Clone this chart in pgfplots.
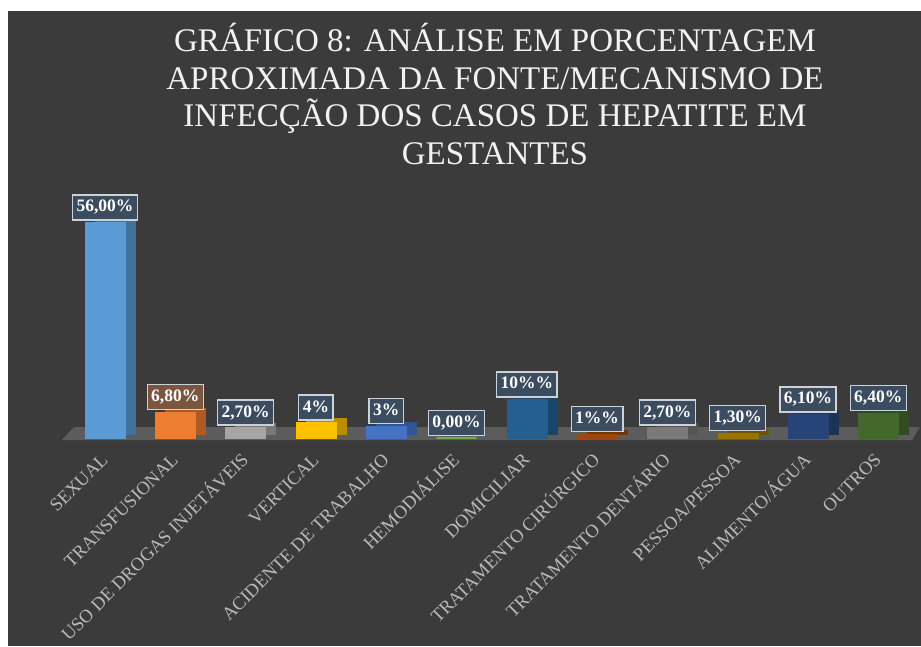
\documentclass[border=0pt]{standalone}
\usepackage{pgfplots}
\pgfplotsset{compat=1.18}
\usepackage{fontspec}
\setmainfont{Liberation Serif}
\definecolor{bgdark}{RGB}{59,59,59}
\definecolor{floorgray}{RGB}{92,92,92}
\definecolor{titlecol}{RGB}{242,242,242}
\definecolor{tickcol}{RGB}{185,185,185}
\definecolor{lblfill}{RGB}{59,76,96}
\definecolor{lblfillor}{RGB}{122,86,64}
\definecolor{lblborder}{RGB}{205,210,215}
\definecolor{ca}{HTML}{5B9BD5}\definecolor{cad}{HTML}{41719C}
\definecolor{cb}{HTML}{ED7D31}\definecolor{cbd}{HTML}{AE5A21}
\definecolor{cc}{HTML}{A5A5A5}\definecolor{ccd}{HTML}{787878}
\definecolor{cd}{HTML}{FFC000}\definecolor{cdd}{HTML}{BC8C00}
\definecolor{ce}{HTML}{4472C4}\definecolor{ced}{HTML}{2F5597}
\definecolor{cf}{HTML}{70AD47}\definecolor{cfd}{HTML}{507E32}
\definecolor{cg}{HTML}{255E91}\definecolor{cgd}{HTML}{1B4469}
\definecolor{ch}{HTML}{9E480E}\definecolor{chd}{HTML}{73350A}
\definecolor{ci}{HTML}{7A7A7A}\definecolor{cid}{HTML}{555555}
\definecolor{cj}{HTML}{997300}\definecolor{cjd}{HTML}{6F5400}
\definecolor{ck}{HTML}{264478}\definecolor{ckd}{HTML}{1C3257}
\definecolor{cl}{HTML}{43682B}\definecolor{cld}{HTML}{314C1F}
\begin{document}
\begin{tikzpicture}[x=1pt,y=1pt]
\useasboundingbox (0,0) rectangle (921,646);
\fill[white] (0,0) rectangle (921,646);
\fill[bgdark] (8,0) rectangle (921,635);
\begin{scope}[every node/.style={text=titlecol, anchor=base, inner sep=0pt, font=\fontsize{33}{37}\selectfont}]
\node at (495,594) {GRÁFICO 8: ANÁLISE EM PORCENTAGEM};
\node at (495,556.5) {APROXIMADA DA FONTE/MECANISMO DE};
\node at (495,519) {INFECÇÃO DOS CASOS DE HEPATITE EM};
\node at (495,481.5) {GESTANTES};
\end{scope}
\fill[floorgray] (62,206) -- (912,206) -- (920,219) -- (74,219) -- cycle;
\begin{axis}[
  at={(69.85pt,208pt)}, anchor=south west,
  scale only axis, width=843.6pt, height=230.8pt,
  xmin=-0.5, xmax=11.5, ymin=0, ymax=60,
  clip=false,
  axis line style={draw=none},
  ytick=\empty,
  xtick={0,...,11},
  major tick length=0pt,
  xticklabels={SEXUAL,TRANSFUSIONAL,USO DE DROGAS INJETÁVEIS,VERTICAL,ACIDENTE DE TRABALHO,HEMODIÁLISE,DOMICILIAR,TRATAMENTO CIRÚRGICO,TRATAMENTO DENTÁRIO,PESSOA/PESSOA,ALIMENTO/ÁGUA,OUTROS},
  xticklabel style={xshift=-5pt, rotate=45, anchor=north east, inner sep=0pt, text height=12.5pt, text depth=0pt, text=tickcol, font=\fontsize{18.5}{18.5}\selectfont},
  xticklabel shift=14pt,
  every axis plot/.append style={ybar, bar width=40pt, bar shift=0pt, line width=0.4pt},
  every node near coord/.style={anchor=south, yshift=2pt, draw=lblborder, line width=1.2pt, fill=lblfill, text=white, inner xsep=4pt, inner ysep=4.5pt, text height=12.5pt, text depth=3.5pt, font=\bfseries\fontsize{17.5}{17.5}\selectfont},
]
% back faces (depth)
\addplot[fill=cad, draw=cad, xshift=10pt, yshift=4pt] coordinates {(0,56)};
\addplot[fill=ca, draw=ca, nodes near coords={56,00\%}] coordinates {(0,56)};
\addplot[fill=cbd, draw=cbd, xshift=10pt, yshift=4pt] coordinates {(1,6.8)};
\addplot[fill=cb, draw=cb, nodes near coords={6,80\%}, every node near coord/.append style={fill=lblfillor}] coordinates {(1,6.8)};
\addplot[fill=ccd, draw=ccd, xshift=10pt, yshift=4pt] coordinates {(2,2.7)};
\addplot[fill=cc, draw=cc, nodes near coords={2,70\%}] coordinates {(2,2.7)};
\addplot[fill=cdd, draw=cdd, xshift=10pt, yshift=4pt] coordinates {(3,4)};
\addplot[fill=cd, draw=cd, nodes near coords={4\%}] coordinates {(3,4)};
\addplot[fill=ced, draw=ced, xshift=10pt, yshift=4pt] coordinates {(4,3)};
\addplot[fill=ce, draw=ce, nodes near coords={3\%}] coordinates {(4,3)};
\addplot[fill=cf, draw=cf, line width=1.5pt, nodes near coords={0,00\%}] coordinates {(5,0)};
\addplot[fill=cgd, draw=cgd, xshift=10pt, yshift=4pt] coordinates {(6,10)};
\addplot[fill=cg, draw=cg, nodes near coords={10\%\%}] coordinates {(6,10)};
\addplot[fill=chd, draw=chd, xshift=10pt, yshift=4pt] coordinates {(7,1)};
\addplot[fill=ch, draw=ch, nodes near coords={1\%\%}] coordinates {(7,1)};
\addplot[fill=cid, draw=cid, xshift=10pt, yshift=4pt] coordinates {(8,2.7)};
\addplot[fill=ci, draw=ci, nodes near coords={2,70\%}] coordinates {(8,2.7)};
\addplot[fill=cjd, draw=cjd, xshift=10pt, yshift=4pt] coordinates {(9,1.3)};
\addplot[fill=cj, draw=cj, nodes near coords={1,30\%}] coordinates {(9,1.3)};
\addplot[fill=ckd, draw=ckd, xshift=10pt, yshift=4pt] coordinates {(10,6.1)};
\addplot[fill=ck, draw=ck, nodes near coords={6,10\%}] coordinates {(10,6.1)};
\addplot[fill=cld, draw=cld, xshift=10pt, yshift=4pt] coordinates {(11,6.4)};
\addplot[fill=cl, draw=cl, nodes near coords={6,40\%}] coordinates {(11,6.4)};
\end{axis}
\end{tikzpicture}
\end{document}
